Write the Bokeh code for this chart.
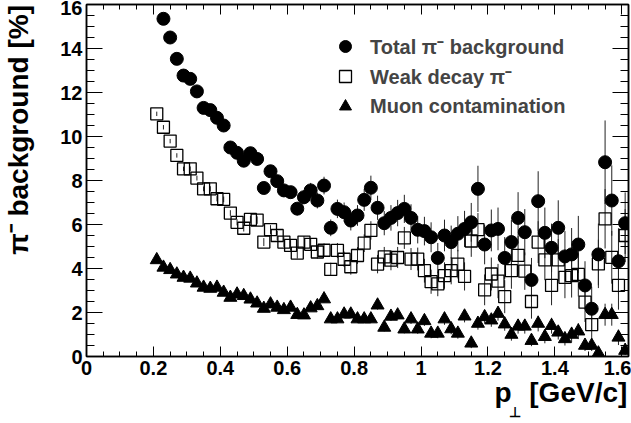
import json
import numpy as np
from bokeh.plotting import figure
from bokeh.models import (ColumnDataSource, FixedTicker, LinearAxis, Range1d,
                          Legend, LegendItem, CustomJSTickFormatter)
from bokeh.embed import file_html
from bokeh.resources import INLINE

# ---------------- data ----------------
pt_bins = [0.21, 0.23, 0.25, 0.27, 0.29, 0.31, 0.33, 0.35, 0.37, 0.39,
           0.41, 0.43, 0.45, 0.47, 0.49, 0.51, 0.53, 0.55, 0.57, 0.59,
           0.61, 0.63, 0.65, 0.67, 0.69, 0.71, 0.73, 0.75, 0.77, 0.79,
           0.81, 0.83, 0.85, 0.87, 0.89, 0.91, 0.93, 0.95, 0.97, 0.99,
           1.01, 1.03, 1.05, 1.07, 1.09, 1.11, 1.13, 1.15, 1.17, 1.19,
           1.21, 1.23, 1.25, 1.27, 1.29, 1.31, 1.33, 1.35, 1.37, 1.39,
           1.41, 1.43, 1.45, 1.47, 1.49, 1.51, 1.53, 1.55, 1.57, 1.59,
           1.61]

# Total pi- background (first bin 0.21 is off scale -> starts at 0.23)
pt_total = pt_bins[1:]
total_bg = [15.35, 14.5, 13.53, 12.77, 12.62, 12.05, 11.3, 11.2, 10.85, 10.5,
            9.5, 9.26, 8.9, 9.24, 8.98, 7.66, 8.42, 7.97, 7.55, 7.47,
            6.72, 7.24, 7.55, 7.09, 7.77, 5.85, 6.71, 6.56, 6.18, 6.41,
            7.12, 7.67, 6.76, 6.06, 6.3, 6.52, 6.71, 6.3, 5.76, 5.7,
            5.42, 4.48, 5.5, 5.2, 5.58, 5.8, 6.1, 7.62, 5.09, 5.73,
            5.8, 4.48, 5.2, 6.3, 5.65, 3.48, 7.06, 5.62, 4.94, 5.85,
            4.55, 4.64, 5.09, 3.23, 2.17, 4.64, 8.83, 7.09, 4.33, 6.06]
total_err = [0.12, 0.12, 0.12, 0.13, 0.13, 0.13, 0.14, 0.14, 0.15, 0.15,
             0.16, 0.17, 0.18, 0.19, 0.2, 0.22, 0.24, 0.25, 0.27, 0.28,
             0.3, 0.32, 0.34, 0.36, 0.4, 0.38, 0.42, 0.44, 0.45, 0.47,
             0.5, 0.55, 0.55, 0.55, 0.58, 0.6, 0.64, 0.62, 0.62, 0.65,
             0.68, 0.68, 0.72, 0.75, 0.8, 0.82, 0.88, 1.05, 0.9, 0.95,
             0.97, 0.95, 1.0, 1.17, 1.05, 1.0, 1.36, 1.15, 1.1, 1.25,
             1.15, 1.2, 1.3, 1.1, 1.0, 1.4, 1.9, 1.6, 1.5, 1.4]

# Weak decay pi-
weak_bg = [11.03, 10.42, 9.79, 9.14, 8.53, 8.53, 8.11, 7.62, 7.62, 7.17,
           7.14, 6.52, 6.1, 5.83, 6.23, 6.2, 5.2, 5.77, 5.5, 5.2,
           5.05, 4.7, 5.2, 5.1, 4.75, 4.83, 3.96, 4.82, 4.42, 4.08,
           4.59, 5.15, 5.73, 4.2, 4.53, 4.38, 4.5, 5.39, 4.43, 4.43,
           3.9, 3.4, 3.3, 3.68, 3.9, 4.2, 3.64, 5.25, 5.77, 3.03,
           3.75, 3.43, 2.72, 3.9, 4.6, 3.88, 2.5, 5.2, 4.39, 3.23,
           4.39, 3.6, 3.68, 3.73, 2.47, 1.45, 4.21, 6.26, 4.51, 3.23,
           5.5]
weak_err = [0.1, 0.1, 0.1, 0.1, 0.1, 0.11, 0.11, 0.11, 0.12, 0.12,
            0.13, 0.13, 0.14, 0.15, 0.16, 0.17, 0.18, 0.2, 0.21, 0.22,
            0.24, 0.25, 0.27, 0.28, 0.3, 0.31, 0.3, 0.34, 0.35, 0.36,
            0.38, 0.4, 0.42, 0.42, 0.45, 0.46, 0.48, 0.5, 0.5, 0.52,
            0.54, 0.55, 0.56, 0.6, 0.62, 0.65, 0.64, 0.72, 0.75, 0.7,
            0.75, 0.78, 0.75, 0.82, 0.88, 0.85, 0.78, 0.95, 0.92, 0.9,
            0.95, 0.95, 1.0, 1.0, 0.9, 0.85, 1.1, 1.35, 1.2, 1.1,
            1.2]

# Muon contamination
muon_bg = [4.39, 4.05, 3.94, 3.74, 3.59, 3.55, 3.33, 3.14, 3.09, 3.14,
           2.91, 2.68, 2.83, 2.76, 2.6, 2.42, 2.18, 2.38, 2.23, 2.12,
           2.23, 1.9, 1.88, 2.2, 2.3, 2.61, 1.7, 1.7, 1.92, 1.92,
           1.7, 1.7, 1.7, 2.33, 1.32, 1.82, 1.88, 1.24, 1.7, 1.24,
           1.62, 1.05, 1.05, 1.7, 1.25, 1.05, 1.83, 0.6, 1.5, 1.8,
           1.65, 1.95, 1.47, 1.0, 1.37, 1.37, 0.72, 1.5, 0.9, 1.4,
           1.1, 0.8, 1.0, 1.15, 0.5, 0.5, 0.15, 1.9, 1.9, 0.87,
           0.27]
muon_err = [0.06, 0.06, 0.06, 0.06, 0.06, 0.06, 0.07, 0.07, 0.07, 0.07,
            0.08, 0.08, 0.08, 0.09, 0.09, 0.1, 0.1, 0.1, 0.11, 0.11,
            0.12, 0.12, 0.13, 0.13, 0.14, 0.15, 0.14, 0.15, 0.16, 0.16,
            0.17, 0.17, 0.18, 0.2, 0.18, 0.2, 0.2, 0.19, 0.22, 0.21,
            0.23, 0.22, 0.22, 0.26, 0.24, 0.24, 0.28, 0.22, 0.28, 0.3,
            0.3, 0.32, 0.3, 0.28, 0.33, 0.33, 0.25, 0.36, 0.3, 0.36,
            0.33, 0.3, 0.35, 0.36, 0.25, 0.25, 0.2, 0.5, 0.5, 0.35,
            0.2]

x_major_ticks = [0, 0.2, 0.4, 0.6, 0.8, 1.0, 1.2, 1.4, 1.6]
x_minor_ticks = [0.05 * i for i in range(33)]
y_major_ticks = [0, 2, 4, 6, 8, 10, 12, 14, 16]
y_minor_ticks = [0.5 * i for i in range(33)]

legend_labels = ["Total \u03c0\u207b background", "Weak decay \u03c0\u207b", "Muon contamination"]
y_title = "\u03c0\u207b background [%]"
x_title_main = "p"
x_title_sub = "\u22a5"
x_title_unit = "[GeV/c]"

FONT = "Liberation Sans"

def make_source(xs, ys, es):
    ys = np.asarray(ys, dtype=float)
    es = np.asarray(es, dtype=float)
    return ColumnDataSource(dict(x=xs, y=ys, lo=ys - es, hi=ys + es))

src_total = make_source(pt_total, total_bg, total_err)
src_weak = make_source(pt_bins, weak_bg, weak_err)
src_muon = make_source(pt_bins, muon_bg, muon_err)

p = figure(width=631, height=423, x_range=Range1d(0, 1.62), y_range=Range1d(0, 16),
           output_backend="svg", toolbar_location=None,
           min_border_left=86, min_border_right=3, min_border_top=4, min_border_bottom=67)
p.xgrid.visible = False
p.ygrid.visible = False
p.outline_line_color = "black"
p.outline_line_width = 1.5
p.background_fill_color = "white"
p.border_fill_color = "white"

xt = FixedTicker(ticks=x_major_ticks, minor_ticks=x_minor_ticks)
yt = FixedTicker(ticks=y_major_ticks, minor_ticks=y_minor_ticks)

def style_axis(ax, ticker, major_in, minor_in, labels, fmt_code):
    ax.ticker = ticker
    ax.axis_line_color = "black"
    ax.axis_line_width = 1.5
    ax.major_tick_in = major_in
    ax.major_tick_out = 0
    ax.minor_tick_in = minor_in
    ax.minor_tick_out = 0
    ax.major_tick_line_color = "black"
    ax.minor_tick_line_color = "black"
    ax.major_tick_line_width = 1
    ax.minor_tick_line_width = 1
    if labels:
        ax.formatter = CustomJSTickFormatter(code=fmt_code)
        ax.major_label_text_font = FONT
        ax.major_label_text_font_style = "bold"
        ax.major_label_text_font_size = "20px"
        ax.major_label_text_color = "black"
    else:
        ax.formatter = CustomJSTickFormatter(code="return '';")
        ax.major_label_text_font_size = "0px"
        ax.major_label_standoff = 0

xa = p.xaxis[0]
style_axis(xa, xt, 10, 5, True, "return (Math.round(tick*10)/10).toString();")
xa.major_label_standoff = 4
ya = p.yaxis[0]
style_axis(ya, yt, 16, 8, True, "return tick.toFixed(0);")
ya.major_label_standoff = 4

top_ax = LinearAxis()
style_axis(top_ax, xt, 10, 5, False, "")
p.add_layout(top_ax, "above")
right_ax = LinearAxis()
style_axis(right_ax, yt, 16, 8, False, "")
p.add_layout(right_ax, "right")

# ---- axis titles (ROOT style, aligned to the end of each axis), drawn as axis text ----
def title_axis(ticks, code, size, standoff, orientation="horizontal"):
    ax = LinearAxis(ticker=FixedTicker(ticks=ticks, minor_ticks=[]),
                    formatter=CustomJSTickFormatter(code=code))
    ax.axis_line_color = None
    ax.major_tick_line_color = None
    ax.minor_tick_line_color = None
    ax.major_tick_in = 0
    ax.major_tick_out = 0
    ax.minor_tick_in = 0
    ax.minor_tick_out = 0
    ax.major_label_standoff = standoff
    ax.major_label_orientation = orientation
    ax.major_label_text_font = FONT
    ax.major_label_text_font_style = "bold"
    ax.major_label_text_font_size = size
    ax.major_label_text_color = "black"
    return ax

y_title_ax = title_axis([10.3], "return %s;" % json.dumps(y_title), "28px", 23, "vertical")
p.add_layout(y_title_ax, "left")

x_title_ax = title_axis([1.245, 1.47],
                        "return index == 0 ? %s : %s;" % (json.dumps(x_title_main), json.dumps(x_title_unit)),
                        "28px", -1)
p.add_layout(x_title_ax, "below")
x_sub_ax = title_axis([1.282], "return %s;" % json.dumps(x_title_sub), "14px", -7)
p.add_layout(x_sub_ax, "below")

# ---- error bars and markers ----
for src in (src_weak, src_muon, src_total):
    p.segment(x0="x", y0="lo", x1="x", y1="hi", source=src, line_color="#222222", line_width=1)

r_weak = p.scatter("x", "y", source=src_weak, marker="square", size=12,
                   fill_alpha=0, line_color="black", line_width=1.3)
r_muon = p.scatter("x", "y", source=src_muon, marker="triangle", size=13,
                   fill_color="black", line_color="black")
r_total = p.scatter("x", "y", source=src_total, marker="circle", size=13,
                    fill_color="black", line_color="black")

legend = Legend(items=[LegendItem(label=legend_labels[0], renderers=[r_total]),
                       LegendItem(label=legend_labels[1], renderers=[r_weak]),
                       LegendItem(label=legend_labels[2], renderers=[r_muon])],
                location=(244, 235), glyph_width=30, glyph_height=30, spacing=0,
                padding=0, label_standoff=10, label_height=30,
                label_text_font=FONT, label_text_font_style="bold",
                label_text_font_size="20px", label_text_baseline="middle",
                background_fill_alpha=0, border_line_alpha=0)
p.add_layout(legend)

open("out.html", "w").write(file_html(p, INLINE))
